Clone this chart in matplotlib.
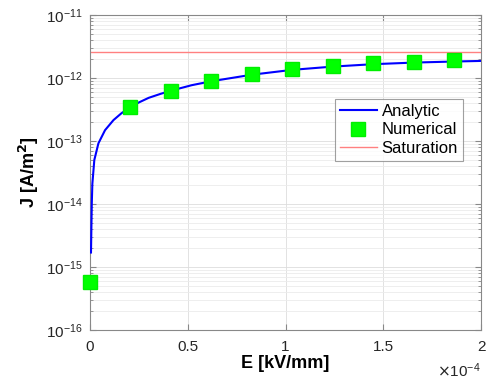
import numpy as np
import matplotlib.pyplot as plt
from matplotlib.ticker import FuncFormatter, FixedLocator, NullFormatter

plt.rcParams['font.family'] = ['Liberation Sans', 'DejaVu Sans']

# analytic curve, E in kV/mm, J in A/m^2
E_analytic = [0.005e-4, 0.009e-4, 0.012e-4, 0.022e-4, 0.043e-4, 0.077e-4, 0.12e-4,
              0.16e-4, 0.207e-4, 0.25e-4, 0.30e-4, 0.36e-4, 0.414e-4, 0.52e-4,
              0.621e-4, 0.828e-4, 1.035e-4, 1.242e-4, 1.449e-4, 1.656e-4,
              1.863e-4, 2.0e-4]
J_analytic = [1.7e-15, 1.0e-14, 2.1e-14, 5.0e-14, 9.2e-14, 1.49e-13, 2.15e-13,
              2.75e-13, 3.45e-13, 4.1e-13, 4.85e-13, 5.6e-13, 6.3e-13, 7.7e-13,
              8.9e-13, 1.13e-12, 1.35e-12, 1.52e-12, 1.66e-12, 1.76e-12,
              1.83e-12, 1.87e-12]

# numerical points
E_num = [0.0, 0.207e-4, 0.414e-4, 0.621e-4, 0.828e-4, 1.035e-4, 1.242e-4,
         1.449e-4, 1.656e-4, 1.863e-4]
J_num = [5.8e-16, 3.5e-13, 6.3e-13, 8.9e-13, 1.15e-12, 1.37e-12, 1.53e-12,
         1.71e-12, 1.79e-12, 1.91e-12]

J_sat = 2.55e-12

x_ticks = [0, 0.5e-4, 1e-4, 1.5e-4, 2e-4]
y_ticks = [1e-16, 1e-15, 1e-14, 1e-13, 1e-12, 1e-11]

fig = plt.figure(figsize=(4.9, 3.86), dpi=100)
ax = fig.add_axes([0.1837, 0.145, 0.798, 0.816])

ax.plot(E_analytic, J_analytic, color='#0000ff', lw=1.5, label='Analytic', zorder=3)
ax.plot(E_num, J_num, ls='none', marker='s', ms=10.5, mfc='#00ff00', mec='#00ee00',
        label='Numerical', zorder=4, clip_on=False)
ax.axhline(J_sat, color='#ff8080', lw=1.0, label='Saturation', zorder=2)

ax.set_yscale('log')
ax.set_xlim(0, 2e-4)
ax.set_ylim(1e-16, 1e-11)
ax.set_xticks(x_ticks)
ax.xaxis.set_major_formatter(FuncFormatter(lambda v, p: '%g' % round(v / 1e-4, 6)))
ax.set_yticks(y_ticks)
minor = [m * d for d in y_ticks[:-1] for m in range(2, 10)]
ax.yaxis.set_minor_locator(FixedLocator(minor))
ax.yaxis.set_minor_formatter(NullFormatter())

ax.grid(True, which='major', axis='both', color='#dddddd', lw=0.6)
ax.grid(True, which='minor', axis='y', color='#ebebeb', lw=0.6)
ax.set_axisbelow(True)

for s in ax.spines.values():
    s.set_color('#888888')
    s.set_linewidth(0.8)
ax.tick_params(which='both', direction='in', top=True, right=True, colors='#888888',
               labelcolor='#262626', labelsize=11)
ax.tick_params(which='major', length=4)
ax.tick_params(which='minor', length=2)
ax.tick_params(axis='x', pad=7)
ax.tick_params(axis='y', pad=5)

ax.set_xlabel('E [kV/mm]', fontsize=13, fontweight='bold', labelpad=1)
ax.set_ylabel('J [A/m$^{\\mathbf{2}}$]', fontsize=13, fontweight='bold', labelpad=4)
ax.text(1.0, -0.13, r'$\times\mathdefault{10^{-4}}$', transform=ax.transAxes,
        ha='right', va='center', fontsize=11, color='#262626')

leg = ax.legend(loc='upper right', bbox_to_anchor=(0.954, 0.733), borderaxespad=0,
                fontsize=12, frameon=True, fancybox=False, handlelength=2.2,
                handletextpad=0.3, borderpad=0.3, labelspacing=0.2)
leg.get_frame().set_edgecolor('#888888')
leg.get_frame().set_linewidth(0.8)

fig.savefig('out.png', dpi=100)
